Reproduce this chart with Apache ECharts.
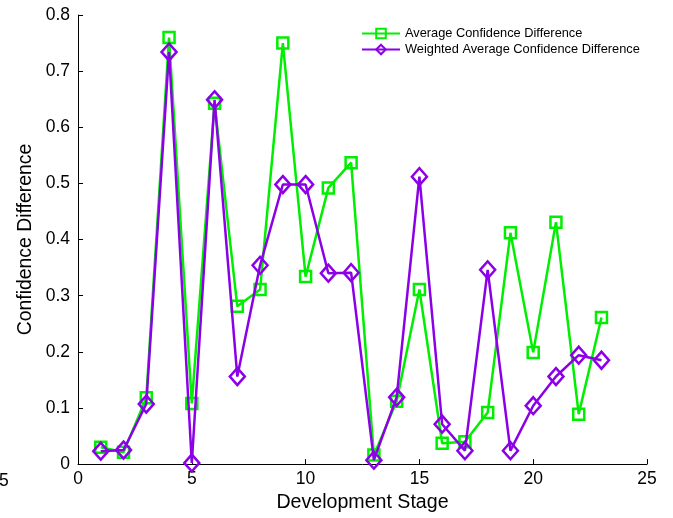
<!DOCTYPE html>
<html>
<head>
<meta charset="utf-8">
<script src="https://cdn.jsdelivr.net/npm/echarts@6/dist/echarts.min.js"></script>
<style>
  html, body { margin: 0; padding: 0; background: #fff; overflow: hidden; }
  #chart { width: 673px; height: 518px; }
</style>
</head>
<body>
<div id="chart"></div>
<script>
// Development stages 1..23
var stages = [1,2,3,4,5,6,7,8,9,10,11,12,13,14,15,16,17,18,19,20,21,22,23];

// Average confidence difference per stage
var avgDiff = [0.030, 0.021, 0.118, 0.760, 0.108, 0.643, 0.281, 0.311, 0.750, 0.334,
               0.492, 0.537, 0.016, 0.112, 0.311, 0.037, 0.040, 0.092, 0.412, 0.199,
               0.431, 0.089, 0.261];

// Weighted average confidence difference per stage
var weightedDiff = [0.023, 0.025, 0.107, 0.734, 0.002, 0.649, 0.156, 0.354, 0.498, 0.498,
                    0.340, 0.341, 0.007, 0.119, 0.512, 0.071, 0.024, 0.346, 0.024, 0.104,
                    0.156, 0.194, 0.185];

var xTicks = [0, 5, 10, 15, 20, 25];
var yTicks = [0, 0.1, 0.2, 0.3, 0.4, 0.5, 0.6, 0.7, 0.8];

var GREEN = '#00ee00';
var PURPLE = '#8c00e8';
var FONT = 'Liberation Sans, Arial, Helvetica, sans-serif';

function pairs(xs, ys) {
  return xs.map(function (x, i) { return [x, ys[i]]; });
}

var chart = echarts.init(document.getElementById('chart'), null, { renderer: 'canvas' });

chart.setOption({
  animation: false,
  backgroundColor: '#ffffff',
  grid: { left: 78, right: 26, top: 15, bottom: 53, containLabel: false },
  legend: {
    orient: 'vertical',
    left: 356,
    top: 22,
    itemWidth: 38,
    itemHeight: 12,
    itemGap: 3,
    textStyle: { fontFamily: FONT, fontSize: 12.8, color: '#000' },
    data: ['Average Confidence Difference', 'Weighted Average Confidence Difference']
  },
  xAxis: {
    type: 'value',
    min: xTicks[0],
    max: xTicks[xTicks.length - 1],
    interval: 5,
    name: 'Development Stage',
    nameLocation: 'middle',
    nameGap: 26,
    nameTextStyle: { fontFamily: FONT, fontSize: 19.6, color: '#000' },
    axisLine: { show: true, lineStyle: { color: '#000', width: 1 } },
    axisTick: { show: true, inside: true, length: 5, lineStyle: { color: '#000' } },
    axisLabel: { fontFamily: FONT, fontSize: 17.5, color: '#000', margin: 6 },
    splitLine: { show: false }
  },
  yAxis: {
    type: 'value',
    min: yTicks[0],
    max: yTicks[yTicks.length - 1],
    interval: 0.1,
    name: 'Confidence Difference',
    nameLocation: 'middle',
    nameGap: 38,
    nameTextStyle: { fontFamily: FONT, fontSize: 19.4, color: '#000' },
    axisLine: { show: true, lineStyle: { color: '#000', width: 1 } },
    axisTick: { show: true, inside: true, length: 5, lineStyle: { color: '#000' } },
    axisLabel: {
      fontFamily: FONT, fontSize: 17.5, color: '#000', margin: 8,
      formatter: function (v) { return v === 0 ? '0' : v.toFixed(1); }
    },
    splitLine: { show: false }
  },
  graphic: [{
    type: 'text',
    left: -1,
    top: 472,
    style: { text: '5', font: '17.5px ' + FONT, fill: '#000' }
  }],
  series: [
    {
      name: 'Average Confidence Difference',
      type: 'line',
      data: pairs(stages, avgDiff),
      symbol: 'rect',
      symbolSize: 11,
      showAllSymbol: true,
      lineStyle: { color: GREEN, width: 2.5 },
      itemStyle: { color: 'rgba(255,255,255,0)', borderColor: GREEN, borderWidth: 2.5 },
      z: 2
    },
    {
      name: 'Weighted Average Confidence Difference',
      type: 'line',
      data: pairs(stages, weightedDiff),
      symbol: 'diamond',
      symbolSize: [15, 17],
      showAllSymbol: true,
      lineStyle: { color: PURPLE, width: 2.5 },
      itemStyle: { color: 'rgba(255,255,255,0)', borderColor: PURPLE, borderWidth: 2.5 },
      z: 3
    }
  ]
});
</script>
</body>
</html>
